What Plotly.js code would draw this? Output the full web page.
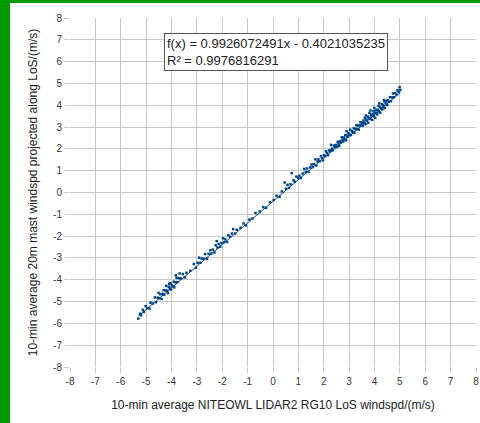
<!DOCTYPE html>
<html>
<head>
<meta charset="utf-8">
<script src="https://cdn.plot.ly/plotly-3.0.1.min.js"></script>
<style>
html,body{margin:0;padding:0;background:#fff;}
#wrap{position:relative;width:480px;height:423px;overflow:hidden;}
#chart{position:absolute;left:0;top:0;width:480px;height:423px;}
#gl{position:absolute;left:0;top:0;width:10px;height:423px;background:#009900;}
#gt{position:absolute;left:0;top:0;width:480px;height:3px;background:#009900;}
</style>
</head>
<body>
<div id="wrap"><div id="chart"></div><div id="gl"></div><div id="gt"></div></div>
<script>
// Measured points: LIDAR LoS windspeed (x) vs mast projected windspeed (y)
const lidarX = [
-5.31,-5.24,-5.20,-5.13,-5.09,-5.02,-4.96,-4.87,-4.83,-4.74,-4.66,-4.61,-4.55,-4.51,-4.48,-4.44,-4.39,
-4.35,-4.31,-4.29,-4.23,-4.21,-4.17,-4.14,-4.11,-4.07,-4.04,-4.02,-3.99,-3.95,-3.91,-3.89,-3.84,-3.80,-3.77,-3.71,-3.68,-3.63,-3.55,-3.48,-3.41,
-3.26,-3.12,-3.04,-2.97,-2.91,-2.86,-2.81,-2.73,-2.68,-2.60,-2.54,-2.47,-2.43,
-2.37,-2.31,-2.26,-2.19,-2.14,-2.08,-2.03,-1.97,-1.93,-1.88,-1.81,-1.76,-1.69,-1.62,-1.57,-1.49,-1.43,
-1.28,-1.16,-1.07,-0.93,-0.81,-0.69,-0.52,-0.38,-0.27,-0.12,
0.03,0.14,0.26,0.35,0.46,0.51,0.57,0.63,0.74,0.69,0.81,0.86,0.92,0.99,1.04,1.10,1.17,1.23,1.29,1.34,1.40,1.46,
1.52,1.56,1.61,1.67,1.71,1.76,1.79,1.84,1.89,1.93,1.97,2.01,2.06,2.09,2.13,2.17,2.21,2.25,2.29,2.33,2.36,2.40,2.44,2.48,
2.52,2.55,2.58,2.61,2.64,2.67,2.71,2.74,2.77,2.79,2.82,2.85,2.88,2.91,2.94,2.97,3.01,3.04,3.07,3.11,3.14,3.18,3.21,3.24,3.28,3.31,3.35,3.38,3.42,3.45,3.48,
3.51,3.54,3.57,3.59,3.62,3.65,3.68,3.70,3.73,3.75,3.78,3.80,3.83,3.86,3.88,3.91,3.93,3.96,3.98,4.01,4.03,4.06,4.08,4.11,4.13,4.16,4.18,4.21,4.23,4.26,4.29,4.31,4.34,4.36,4.39,4.41,4.44,4.47,
4.50,4.53,4.57,4.61,4.65,4.69,4.73,4.77,4.82,4.86,4.91,4.95,4.99,5.02,
3.66,3.84,3.99,4.19,4.37,2.90,2.30,-4.09,-3.83,-2.22
];
const mastY = [
-5.78,-5.56,-5.63,-5.38,-5.48,-5.21,-5.30,-5.32,-5.05,-5.09,-4.81,-5.03,-4.82,-4.60,-4.85,-4.67,-4.88,
-4.64,-4.48,-4.69,-4.49,-4.28,-4.50,-4.61,-4.32,-4.37,-4.16,-4.45,-4.24,-4.30,-4.09,-4.35,-4.12,-3.91,-4.11,-3.93,-3.71,-3.94,-3.74,-3.89,-3.68,
-3.59,-3.28,-3.45,-3.22,-2.99,-3.22,-3.03,-3.04,-2.82,-3.04,-2.81,-2.65,-2.80,
-2.62,-2.75,-2.42,-2.52,-2.36,-2.49,-2.32,-2.10,-2.28,-2.15,-2.27,-1.96,-2.03,-1.88,-1.68,-1.88,-1.71,
-1.62,-1.42,-1.51,-1.24,-1.19,-0.94,-0.87,-0.67,-0.70,-0.44,
-0.34,-0.15,-0.20,0.05,0.46,0.17,0.35,0.21,0.89,0.38,0.56,0.49,0.73,0.67,0.77,0.66,0.87,1.08,0.94,1.10,0.94,1.15,
1.28,1.16,1.30,1.52,1.24,1.42,1.52,1.43,1.67,1.58,1.47,1.71,1.67,1.89,1.80,1.71,1.93,1.88,2.18,2.01,1.94,2.15,2.08,2.18,
2.10,2.32,2.24,2.13,2.35,2.29,2.53,2.42,2.34,2.52,2.46,2.63,2.39,2.60,2.55,2.72,2.66,2.88,2.63,2.81,2.77,2.94,2.74,2.91,3.08,2.91,3.07,2.88,3.08,3.22,3.07,
3.19,3.07,3.30,3.21,3.42,3.13,3.34,3.29,3.48,3.20,3.42,3.65,3.37,3.56,3.49,3.33,3.60,3.73,3.49,3.64,3.42,3.78,3.66,3.58,3.79,3.97,3.71,3.90,3.66,3.88,4.05,3.81,4.01,3.93,4.18,3.87,4.09,4.20,
4.01,4.23,4.16,4.37,4.19,4.36,4.54,4.37,4.56,4.49,4.69,4.61,4.83,4.70,
3.53,3.76,3.88,4.09,4.24,2.81,1.93,-4.18,-3.80,-2.23
];
// Linear trend line shown in the chart
const trendSlope = 0.9926072491;
const trendIntercept = -0.4021035235;
const rSquared = 0.9976816291;
const tickValues = [-8,-7,-6,-5,-4,-3,-2,-1,0,1,2,3,4,5,6,7,8];
const tickLabels = ["-8","-7","-6","-5","-4","-3","-2","-1","0","1","2","3","4","5","6","7","8"];
const xTitle = "10-min average NITEOWL LIDAR2 RG10 LoS windspd/(m/s)";
const yTitle = "10-min average 20m mast windspd projected along LoS/(m/s)";

const xMin = Math.min(...lidarX), xMax = Math.max(...lidarX);
const trendX = [xMin, xMax];
const trendY = trendX.map(v => trendSlope * v + trendIntercept);

const col = '#004586';
const font = 'Liberation Sans, Arial, sans-serif';
const axisCommon = {
  range: [-8, 8], tickmode: 'array', tickvals: tickValues, ticktext: tickLabels,
  showgrid: true, gridcolor: '#c8c8c8', gridwidth: 1, zeroline: false,
  showline: false, ticks: 'outside', ticklen: 5, tickcolor: '#c8c8c8',
  tickfont: {family: font, size: 10, color: '#333'}, fixedrange: true
};
const data = [
  {x: lidarX, y: mastY, type: 'scatter', mode: 'markers',
   marker: {color: col, size: 2.5, symbol: 'square'}, hoverinfo: 'skip'},
  {x: trendX, y: trendY, type: 'scatter', mode: 'lines',
   line: {color: col, width: 1}, hoverinfo: 'skip'}
];
const layout = {
  width: 480, height: 423, showlegend: false,
  paper_bgcolor: '#fff', plot_bgcolor: '#fff',
  margin: {l: 70, r: 4, t: 18, b: 56},
  font: {family: font, color: '#222'},
  xaxis: Object.assign({}, axisCommon, {
    title: {text: xTitle, font: {family: font, size: 12, color: '#222'}, standoff: 14}
  }),
  yaxis: Object.assign({}, axisCommon, {
    title: {text: yTitle, font: {family: font, size: 12, color: '#222'}, standoff: 12}
  }),
  annotations: [{
    xref: 'x', yref: 'y', x: -4.3, y: 7.32, xanchor: 'left', yanchor: 'top',
    showarrow: false, align: 'left',
    text: 'f(x) = ' + trendSlope.toFixed(10) + 'x - ' + Math.abs(trendIntercept).toFixed(10) + '<br>R² = ' + rSquared.toFixed(10),
    font: {family: font, size: 13, color: '#222'},
    bgcolor: '#fff', bordercolor: '#555', borderwidth: 1, borderpad: 2
  }]
};
Plotly.newPlot('chart', data, layout, {displayModeBar: false, staticPlot: true});
</script>
</body>
</html>
